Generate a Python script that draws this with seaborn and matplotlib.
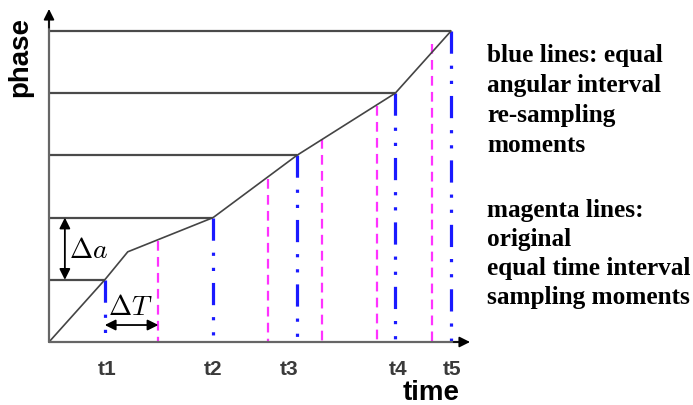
import numpy as np
import matplotlib
matplotlib.use("Agg")
import matplotlib.pyplot as plt
import seaborn as sns

# ---------------- data ----------------
# re-sampling moments (blue) in units of the original sampling interval dT
t_resample = [1.02, 3.00, 4.53, 6.33, 7.35]
t_labels = ["t1", "t2", "t3", "t4", "t5"]
t_label_pos = [1.06, 3.00, 4.39, 6.38, 7.37]
# phase levels reached at each re-sampling moment (units of delta a)
phase_levels = [1, 2, 3, 4, 5]
# original equal time interval sampling moments (magenta) and their tops
t_original = [2, 4, 5, 6, 7]
original_tops = [1.62, 2.62, 3.26, 3.79, 4.79]
# phase curve (piecewise linear)
curve_time = [0.0, 1.02, 1.44, 3.00, 4.53, 6.33, 7.35]
curve_phase = [0.0, 1.00, 1.45, 2.00, 3.00, 4.00, 5.00]

blue_text = ["blue lines: equal", "angular interval", "re-sampling", "moments"]
magenta_text = ["magenta lines:", "original", "equal time interval", "sampling moments"]

# ---------------- figure ----------------
sns.set_style("white")
plt.rcParams["font.family"] = ["Liberation Sans", "DejaVu Sans"]
plt.rcParams["mathtext.fontset"] = "cm"
plt.rcParams["lines.scale_dashes"] = False

W, H = 693, 406
fig = plt.figure(figsize=(W / 100, H / 100), dpi=100)
x0, x1, y0, y1 = 49, 470, 343, 10
ax = fig.add_axes([x0 / W, (H - y0) / H, (x1 - x0) / W, (y0 - y1) / H])
xmax, ymax = 7.697, 5.354
ax.set_xlim(0, xmax)
ax.set_ylim(0, ymax)
for s in ax.spines.values():
    s.set_visible(False)
ax.set_yticks([])
ax.set_xticks(t_label_pos)
ax.set_xticklabels(t_labels, fontsize=15, fontweight="bold", color="#3a3a3a")
ax.tick_params(axis="x", length=0, pad=12)
ax.patch.set_alpha(0)

# horizontal level lines
for t, p in zip(t_resample, phase_levels):
    ax.plot([0, t], [p, p], color="#4a4a4a", lw=1.6, solid_capstyle="butt", zorder=2)

# magenta dashed lines
for t, top in zip(t_original, original_tops):
    ln, = ax.plot([t, t], [top, 0], color="#ff33ff", lw=1.6, zorder=3)
    ln.set_dashes([7.0, 4.5])

# blue dash-dot-dot lines
for t, p in zip(t_resample, phase_levels):
    ln, = ax.plot([t, t], [p, 0], color="#1a1aff", lw=2.3, zorder=4,
                  solid_capstyle="butt", dash_capstyle="butt")
    ln.set_dashes([16, 8.6, 2.3, 8.6, 2.3, 8.6])

# phase curve
sns.lineplot(x=curve_time, y=curve_phase, sort=False, ax=ax, color="#444444",
             lw=1.2, zorder=5, estimator=None)

# axes with arrows
ax.plot([0, 0], [0, ymax - 0.2], color="#666666", lw=1.6, clip_on=False, zorder=6)
ax.plot([0, xmax - 0.2], [0, 0], color="#666666", lw=1.6, clip_on=False, zorder=6)
ax.annotate("", xy=(0, ymax), xytext=(0, ymax - 0.3),
            arrowprops=dict(arrowstyle="-|>", color="black", lw=1.2,
                            mutation_scale=16, shrinkA=0, shrinkB=0),
            annotation_clip=False, zorder=7)
ax.annotate("", xy=(xmax, 0), xytext=(xmax - 0.3, 0),
            arrowprops=dict(arrowstyle="-|>", color="black", lw=1.2,
                            mutation_scale=16, shrinkA=0, shrinkB=0),
            annotation_clip=False, zorder=7)

# delta a arrow
ax.annotate("", xy=(0.29, phase_levels[1]), xytext=(0.29, phase_levels[0]),
            arrowprops=dict(arrowstyle="<|-|>", color="black", lw=1.3,
                            mutation_scale=16, shrinkA=0, shrinkB=0))
ax.text(0.73, 1.48, r"$\Delta a$", fontsize=20, ha="center", va="center", color="black")
# delta T arrow
ax.annotate("", xy=(t_original[0], 0.273), xytext=(t_resample[0], 0.273),
            arrowprops=dict(arrowstyle="<|-|>", color="black", lw=1.3,
                            mutation_scale=16, shrinkA=0, shrinkB=0))
ax.text(1.48, 0.57, r"$\Delta T$", fontsize=20, ha="center", va="center", color="black")

# axis titles
fig.text(20 / W, 1 - 57 / H, "phase", rotation=90, fontsize=20, fontweight="bold",
         ha="center", va="center", color="black")
fig.text(431 / W, 1 - 400 / H, "time", fontsize=20, fontweight="bold",
         ha="center", va="baseline", color="black")

# right-hand notes
for i, line in enumerate(blue_text):
    fig.text(487 / W, 1 - (62 + 30 * i) / H, line, fontsize=18.2, fontweight="bold",
             family="Liberation Serif", ha="left", va="baseline", color="black")
for i, line in enumerate(magenta_text):
    fig.text(487 / W, 1 - (217 + 29 * i) / H, line, fontsize=18.2, fontweight="bold",
             family="Liberation Serif", ha="left", va="baseline", color="black")

fig.savefig("out.png", dpi=100)
